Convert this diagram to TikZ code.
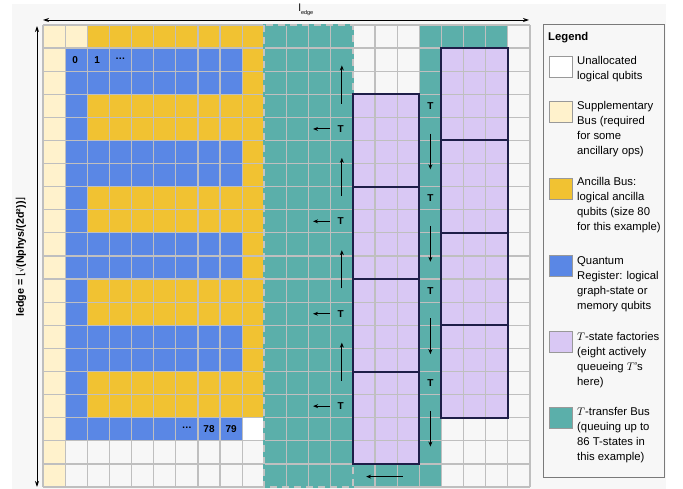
\documentclass[tikz,border=0pt]{standalone}
\usepackage{fontspec}
\setmainfont{Liberation Sans}
\newfontfamily\djv{DejaVu Sans}
\usetikzlibrary{arrows.meta}
\definecolor{cream}{HTML}{FFF2CC}
\definecolor{ayellow}{HTML}{F1C232}
\definecolor{qblue}{HTML}{5A87E5}
\definecolor{tealbus}{HTML}{5BAFAA}
\definecolor{tpurple}{HTML}{D9C8F4}
\definecolor{unalloc}{HTML}{F7F7F7}
\definecolor{panel}{HTML}{F7F7F7}
\definecolor{gridgrey}{HTML}{BFBFBF}
\definecolor{dashgrey}{HTML}{C4C4C4}
\definecolor{navy}{HTML}{1E1E48}
\definecolor{legendgrey}{HTML}{7A7A7A}
\tikzset{
  gridline/.style={gridgrey, line width=1.2pt},
  busunder/.style={tealbus, line width=1.8pt},
  busdash/.style={dashgrey, line width=1.8pt, dash pattern=on 7pt off 5pt},
  factory/.style={navy, line width=2pt},
  arr/.style={black, line width=0.9pt, -{Stealth[length=5pt,width=4pt]}},
  dimarr/.style={black, line width=0.9pt, {Stealth[length=6pt,width=4pt]}-{Stealth[length=6pt,width=4pt]}},
  tlab/.style={font=\bfseries\fontsize{10}{12}\selectfont, inner sep=0pt},
  numlab/.style={font=\bfseries\fontsize{10}{12}\selectfont, inner sep=0pt},
  swatch/.style={draw=gridgrey!80!black, line width=0.8pt, minimum width=23pt, minimum height=21pt, inner sep=0pt},
  legtext/.style={anchor=north west, inner sep=0pt, align=left, font=\fontsize{11.3}{15}\selectfont},
}
\begin{document}
\begin{tikzpicture}[x=1pt,y=-1pt]
\useasboundingbox (0,0) rectangle (683,489);
\fill[white] (0,0) rectangle (683,489);
\fill[panel] (12,4) rectangle (666,489);

\begin{scope}[shift={(43,25)},x=22.136pt,y=-23.1pt]
  \fill[unalloc] (0,0) rectangle (22,20);
  \fill[cream] (0,0) rectangle (1,20) (1,0) rectangle (2,1);
  \fill[ayellow] (2,0) rectangle (10,1) (9,1) rectangle (10,17);
  \foreach \r in {3,7,11,15} \fill[ayellow] (2,\r) rectangle (9,\r+2);
  \fill[qblue] (1,1) rectangle (2,18) (1,17) rectangle (9,18);
  \foreach \r in {1,5,9,13} \fill[qblue] (2,\r) rectangle (9,\r+2);
  \fill[white] (9,17) rectangle (10,18);
  \fill[tealbus] (10,0) rectangle (14,20) (17,0) rectangle (18,20)
                 (18,0) rectangle (21,1) (14,19) rectangle (17,20);
  \fill[tpurple] (14,3) rectangle (17,19) (18,1) rectangle (21,17);
  \foreach \c in {0,...,22} \draw[gridline] (\c,0) -- (\c,20);
  \foreach \r in {0,...,20} \draw[gridline] (0,\r) -- (22,\r);
  \draw[busunder] (10,0) rectangle (14,20);
  \draw[busdash] (10,0) rectangle (14,20);
  \foreach \k in {0,...,3} {
    \draw[factory] (14,{3+4*\k}) rectangle (17,{7+4*\k});
    \draw[factory] (18,{1+4*\k}) rectangle (21,{5+4*\k});
  }
  % labels in register
  \node[numlab] (n0) at (1.45,1.5) {0};
  \node[numlab] (n1) at (2.45,1.5) {1};
  \node[numlab] (n2) at (3.5,1.45) {\dots};
  \node[numlab] (n3) at (6.5,17.45) {\dots};
  \node[numlab] (n78) at (7.5,17.5) {78};
  \node[numlab] (n79) at (8.5,17.5) {79};
  % transfer bus arrows
  \foreach \k in {0,...,3} {
    \coordinate (ua\k) at (13.5,{3.4+4*\k});
    \coordinate (ub\k) at (13.5,{1.75+4*\k});
    \draw[arr] (ua\k) -- (ub\k);
    \node[tlab] (tl\k) at (13.45,{4.5+4*\k}) {T};
    \coordinate (la\k) at (12.97,{4.5+4*\k});
    \coordinate (lb\k) at (12.2,{4.5+4*\k});
    \draw[arr] (la\k) -- (lb\k);
    \node[tlab] (tr\k) at (17.5,{3.5+4*\k}) {T};
    \coordinate (da\k) at (17.5,{4.7+4*\k});
    \coordinate (db\k) at (17.5,{6.25+4*\k});
    \draw[arr] (da\k) -- (db\k);
  }
  \coordinate (ba) at (16.25,19.55);
  \coordinate (bb) at (14.6,19.55);
  \draw[arr] (ba) -- (bb);
\end{scope}

% dimension arrows
\coordinate (topL) at (43,20);
\coordinate (topR) at (529,20);
\draw[dimarr] (topL) -- (topR);
\node[inner sep=0pt] (ledgetop) at (306,10) {\fontsize{10.5}{12}\selectfont l\raisebox{-3pt}{\fontsize{5.5}{6}\selectfont edge}};
\coordinate (sideT) at (37,26);
\coordinate (sideB) at (37,487);
\draw[dimarr] (sideT) -- (sideB);
\node[rotate=90, inner sep=0pt] (ledgeside) at (21,257)
  {\bfseries\fontsize{10.7}{12}\selectfont ledge = {\djv\mdseries ⌊}{\djv\mdseries\fontsize{8}{10}\selectfont √}(Nphys/(2d²)){\djv\mdseries ⌋}};

% legend
\node[draw=legendgrey, line width=0.8pt, fill=panel, anchor=north west, inner sep=0pt,
      minimum width=121pt, minimum height=453pt] (legend) at (543,24) {};
\node[anchor=north west, inner sep=0pt, font=\bfseries\fontsize{11.3}{14}\selectfont] (legtitle) at (548,32) {Legend};
\node[swatch, fill=white]   (s1) at (560.5,66.5) {};
\node[swatch, fill=cream]   (s2) at (560.5,111.5) {};
\node[swatch, fill=ayellow] (s3) at (560.5,188.5) {};
\node[swatch, fill=qblue]   (s4) at (560.5,265.5) {};
\node[swatch, fill=tpurple] (s5) at (560.5,341.5) {};
\node[swatch, fill=tealbus] (s6) at (560.5,417.5) {};
\node[legtext] (t1) at (577,56.5) {Unallocated\\logical qubits};
\node[legtext] (t2) at (577,101) {Supplementary\\Bus (required\\for some\\ancillary ops)};
\node[legtext] (t3) at (577,177.5) {Ancilla Bus:\\logical ancilla\\qubits (size 80\\for this example)};
\node[legtext] (t4) at (577,256) {Quantum\\Register: logical\\graph-state or\\memory qubits};
\node[legtext] (t5) at (577,332) {$T$-state factories\\(eight actively\\queueing $T$'s\\here)};
\node[legtext] (t6) at (577,407.5) {$T$-transfer Bus\\(queuing up to\\86 T-states in\\this example)};
\end{tikzpicture}
\end{document}
